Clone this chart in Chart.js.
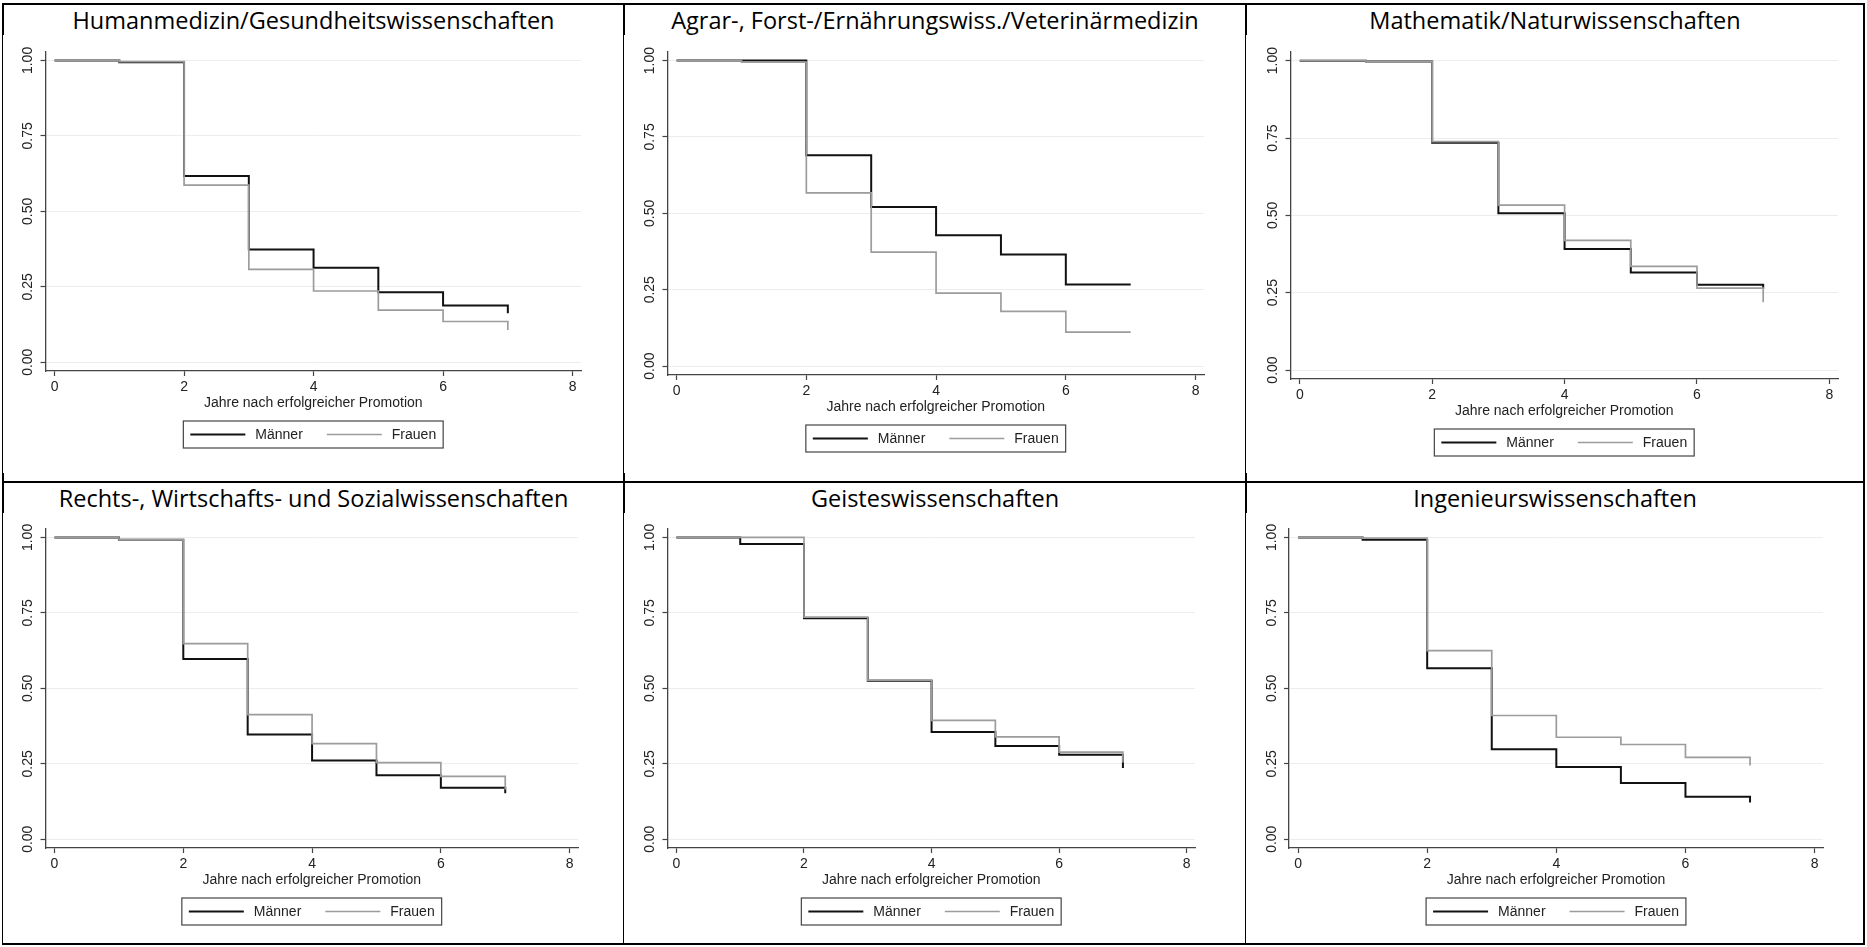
<!DOCTYPE html>
<html lang="de">
<head>
<meta charset="utf-8">
<title>Verbleib nach der Promotion</title>
<script src="https://cdn.jsdelivr.net/npm/chart.js@4.4.1/dist/chart.umd.min.js"></script>
<style>
  html, body { margin: 0; padding: 0; background: #fff; }
  body { width: 1867px; height: 947px; position: relative; overflow: hidden; }
  .linie { position: absolute; background: #000; }
  .titel { position: absolute; text-align: center; white-space: nowrap; color: #000;
           font-family: "Open Sans", sans-serif; font-size: 23.5px; line-height: 30px; }
  canvas { position: absolute; display: block; background: #fff; }
</style>
</head>
<body>
<script>
// === DATEN ===
const jahre = [0, 1, 2, 3, 4, 5, 6, 7];
const xTicks = [0, 2, 4, 6, 8];
const yTicks = [0, 0.25, 0.5, 0.75, 1];
const yTickLabels = ['0.00', '0.25', '0.50', '0.75', '1.00'];
const achsenTitel = 'Jahre nach erfolgreicher Promotion';
const gruppen = ['Männer', 'Frauen'];

const faecher = [
  'Humanmedizin/Gesundheitswissenschaften',
  'Agrar-, Forst-/Ernährungswiss./Veterinärmedizin',
  'Mathematik/Naturwissenschaften',
  'Rechts-, Wirtschafts- und Sozialwissenschaften',
  'Geisteswissenschaften',
  'Ingenieurswissenschaften'
];

const maennerMedizin = [1, 0.994, 0.617, 0.374, 0.313, 0.232, 0.188, 0.162];
const frauenMedizin  = [1, 0.996, 0.587, 0.308, 0.236, 0.173, 0.135, 0.107];
const maennerAgrar   = [1, 1.000, 0.690, 0.521, 0.428, 0.365, 0.267, 0.267];
const frauenAgrar    = [1, 0.995, 0.567, 0.373, 0.239, 0.179, 0.111, 0.111];
const maennerMathe   = [1, 0.997, 0.735, 0.507, 0.391, 0.315, 0.276, 0.262];
const frauenMathe    = [1, 0.997, 0.738, 0.533, 0.419, 0.335, 0.265, 0.219];
const maennerRecht   = [1, 0.992, 0.597, 0.347, 0.261, 0.212, 0.171, 0.152];
const frauenRecht    = [1, 0.992, 0.648, 0.413, 0.317, 0.254, 0.208, 0.165];
const maennerGeist   = [1, 0.978, 0.732, 0.525, 0.355, 0.309, 0.280, 0.236];
const frauenGeist    = [1, 1.000, 0.736, 0.527, 0.394, 0.339, 0.289, 0.254];
const maennerIng     = [1, 0.992, 0.567, 0.298, 0.239, 0.186, 0.141, 0.122];
const frauenIng      = [1, 0.998, 0.625, 0.410, 0.338, 0.314, 0.271, 0.244];

const reihenMaenner = [maennerMedizin, maennerAgrar, maennerMathe, maennerRecht, maennerGeist, maennerIng];
const reihenFrauen  = [frauenMedizin, frauenAgrar, frauenMathe, frauenRecht, frauenGeist, frauenIng];

// === LAYOUT ===
const spaltenX = [2, 623, 1245, 1863];
const zeilenY = [3, 481, 943];
// Plotbereich je Zelle (links, oben, rechts, unten) in Seitenkoordinaten
const plotBoxen = [
  [45.5, 52, 581, 371], [667.5, 52, 1204, 375], [1290.5, 52, 1838, 379],
  [45.5, 529, 578, 848], [667.5, 529, 1195, 848], [1289, 529, 1823, 848]
];
const schrift = '"Liberation Sans", Arial, sans-serif';
const textFarbe = '#222';
const achsenFarbe = '#444';

// Rahmen der Tabelle
spaltenX.forEach(x => {
  const d = document.createElement('div');
  d.className = 'linie';
  Object.assign(d.style, { left: x + 'px', top: zeilenY[0] + 'px', width: '2px', height: (zeilenY[2] - zeilenY[0] + 2) + 'px' });
  document.body.appendChild(d);
});
zeilenY.forEach(y => {
  const d = document.createElement('div');
  d.className = 'linie';
  Object.assign(d.style, { left: spaltenX[0] + 'px', top: y + 'px', width: (spaltenX[3] - spaltenX[0] + 2) + 'px', height: '2px' });
  document.body.appendChild(d);
});

// y-Beschriftung gedreht wie bei Stata
const yBeschriftung = {
  id: 'yBeschriftung',
  afterDraw(chart) {
    const s = chart.scales.y;
    const ctx = chart.ctx;
    ctx.save();
    ctx.font = '14px ' + schrift;
    ctx.fillStyle = textFarbe;
    ctx.textAlign = 'center';
    ctx.textBaseline = 'alphabetic';
    yTicks.forEach((v, i) => {
      ctx.save();
      ctx.translate(s.right - 13.5, s.getPixelForValue(v));
      ctx.rotate(-Math.PI / 2);
      ctx.fillText(yTickLabels[i], 0, 0);
      ctx.restore();
    });
    ctx.restore();
  }
};

// Legende mit Rahmen unter dem Achsentitel
const legendeBox = {
  id: 'legendeBox',
  afterDraw(chart) {
    const a = chart.chartArea;
    const ctx = chart.ctx;
    const sets = chart.data.datasets;
    const linie = 55, abstandText = 10, abstandItem = 24, rand = 7, hoehe = 27;
    ctx.save();
    ctx.font = '14px ' + schrift;
    const breiten = sets.map(d => linie + abstandText + ctx.measureText(d.label).width);
    const gesamt = breiten.reduce((s, b) => s + b, 0) + abstandItem * (sets.length - 1) + 2 * rand;
    let x = (a.left + a.right) / 2 - gesamt / 2;
    const top = a.bottom + 50;
    ctx.strokeStyle = achsenFarbe;
    ctx.lineWidth = 1.2;
    ctx.strokeRect(x, top, gesamt, hoehe);
    const my = top + hoehe / 2;
    x += rand;
    sets.forEach((d, i) => {
      ctx.strokeStyle = d.borderColor;
      ctx.lineWidth = d.borderWidth;
      ctx.beginPath();
      ctx.moveTo(x, my);
      ctx.lineTo(x + linie, my);
      ctx.stroke();
      ctx.fillStyle = textFarbe;
      ctx.textAlign = 'left';
      ctx.textBaseline = 'middle';
      ctx.fillText(d.label, x + linie + abstandText, my + 1);
      x += breiten[i] + abstandItem;
    });
    ctx.restore();
  }
};

faecher.forEach((fach, i) => {
  const spalte = i % 3, zeile = Math.floor(i / 3);
  const zelleL = spaltenX[spalte], zelleR = spaltenX[spalte + 1];
  const zeileO = zeilenY[zeile], zeileU = zeilenY[zeile + 1];

  const t = document.createElement('div');
  t.className = 'titel';
  t.textContent = fach;
  Object.assign(t.style, { left: zelleL + 'px', width: (zelleR - zelleL + 2) + 'px', top: (zeileO + 2) + 'px' });
  document.body.appendChild(t);

  const L = zelleL + 1, T = zeileO + 32;
  const W = zelleR - L, H = (zeile === 0 ? 473 : zeileU) - T;
  const cv = document.createElement('canvas');
  cv.width = W; cv.height = H;
  Object.assign(cv.style, { left: L + 'px', top: T + 'px', width: W + 'px', height: H + 'px' });
  document.body.appendChild(cv);

  const [pl, pt, pr, pb] = plotBoxen[i];
  const xHoehe = 45;

  new Chart(cv.getContext('2d'), {
    type: 'line',
    data: {
      datasets: [
        {
          label: gruppen[0],
          data: jahre.map((j, k) => ({ x: j, y: reihenMaenner[i][k] })),
          borderColor: '#111', backgroundColor: '#111', borderWidth: 2,
          stepped: true, pointRadius: 0, fill: false, order: 1
        },
        {
          label: gruppen[1],
          data: jahre.map((j, k) => ({ x: j, y: reihenFrauen[i][k] })),
          borderColor: '#9c9c9c', backgroundColor: '#9c9c9c', borderWidth: 1.7,
          stepped: true, pointRadius: 0, fill: false, order: 0
        }
      ]
    },
    options: {
      responsive: false,
      animation: false,
      devicePixelRatio: 1,
      layout: { padding: { left: 0, top: pt - T, right: L + W - pr, bottom: T + H - pb - xHoehe } },
      plugins: { legend: { display: false }, tooltip: { enabled: false } },
      scales: {
        x: {
          type: 'linear', min: -0.14, max: 8.13,
          afterBuildTicks: s => { s.ticks = xTicks.map(v => ({ value: v })); },
          afterFit: s => { s.height = xHoehe; },
          grid: { drawOnChartArea: false, tickLength: 5, tickColor: achsenFarbe, tickWidth: 1.2 },
          border: { color: achsenFarbe, width: 1.3 },
          ticks: { font: { family: schrift, size: 14 }, color: textFarbe, padding: 3, maxRotation: 0 },
          title: { display: true, text: achsenTitel, color: textFarbe,
                   font: { family: schrift, size: 14 }, padding: { top: 0, bottom: 4.6 } }
        },
        y: {
          type: 'linear', min: -0.029, max: 1.028,
          afterBuildTicks: s => { s.ticks = yTicks.map(v => ({ value: v })); },
          afterFit: s => { s.width = pl - L; },
          grid: { color: '#ededed', lineWidth: 1, tickLength: 5, tickColor: achsenFarbe, tickWidth: 1.2 },
          border: { color: achsenFarbe, width: 1.3 },
          ticks: { display: false }
        }
      }
    },
    plugins: [yBeschriftung, legendeBox]
  });
});
</script>
</body>
</html>
